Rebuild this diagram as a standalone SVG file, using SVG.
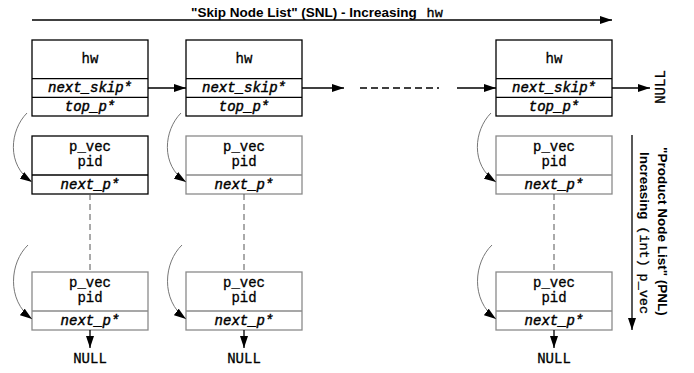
<svg xmlns="http://www.w3.org/2000/svg" width="694" height="373" viewBox="0 0 694 373">
  <style>
    .box { fill: #ffffff; stroke: #000000; stroke-width: 1.3; }
    .box.light { stroke: #8a8a8a; }
    .sep { stroke: #000000; stroke-width: 1.3; }
    .sep.light { stroke: #8a8a8a; }
    .mono { font-family: "Liberation Mono", "Courier New", monospace; font-size: 14px; fill: #000; stroke: #000; stroke-width: 0.3; text-anchor: middle; }
    .field { font-style: italic; stroke-width: 0.45; }
    .label { font-family: "Liberation Sans", Arial, sans-serif; font-size: 13.5px; font-weight: bold; fill: #000; }
    .labelmono { font-family: "Liberation Mono", "Courier New", monospace; font-size: 13.5px; font-weight: normal; stroke: #000; stroke-width: 0.3; }
    .link { stroke: #000; stroke-width: 1.3; fill: none; marker-end: url(#head); }
    .dash { stroke: #555; stroke-width: 1; stroke-dasharray: 6 4; fill: none; }
    .curve { stroke: #777; stroke-width: 1; fill: none; marker-end: url(#head); }
  </style>
  <defs>
    <marker id="head" viewBox="0 0 12 8" refX="12" refY="4" markerWidth="12" markerHeight="8" markerUnits="userSpaceOnUse" orient="auto">
      <path d="M0,0 L12,4 L0,8 Z" fill="#000"/>
    </marker>
  </defs>

  <!-- direction labels -->
  <g id="snl-title">
    <text class="label" x="191" y="17">"Skip Node List" (SNL) - Increasing <tspan class="labelmono" dx="6">hw</tspan></text>
  </g>
  <g id="pnl-title">
    <text class="label" transform="translate(658,147) rotate(90)" x="0" y="0">"Product Node List" (PNL)</text>
    <text class="label" transform="translate(640,152) rotate(90)" x="0" y="0">Increasing <tspan class="labelmono" dx="3">(int)</tspan> <tspan class="labelmono" dx="3">p_vec</tspan></text>
  </g>

  <!-- skip nodes -->
  <g id="skip1">
    <rect class="box" x="32" y="40" width="116" height="76"/>
    <line class="sep" x1="32" y1="78.7" x2="148" y2="78.7"/>
    <line class="sep" x1="32" y1="97.3" x2="148" y2="97.3"/>
    <text class="mono" x="90" y="63">hw</text>
    <text class="mono field" x="90" y="92">next_skip*</text>
    <text class="mono field" x="90" y="111">top_p*</text>
  </g>
  <g id="skip2">
    <rect class="box" x="186" y="40" width="116" height="76"/>
    <line class="sep" x1="186" y1="78.7" x2="302" y2="78.7"/>
    <line class="sep" x1="186" y1="97.3" x2="302" y2="97.3"/>
    <text class="mono" x="244" y="63">hw</text>
    <text class="mono field" x="244" y="92">next_skip*</text>
    <text class="mono field" x="244" y="111">top_p*</text>
  </g>
  <g id="skip3">
    <rect class="box" x="496" y="40" width="116" height="76"/>
    <line class="sep" x1="496" y1="78.7" x2="612" y2="78.7"/>
    <line class="sep" x1="496" y1="97.3" x2="612" y2="97.3"/>
    <text class="mono" x="554" y="63">hw</text>
    <text class="mono field" x="554" y="92">next_skip*</text>
    <text class="mono field" x="554" y="111">top_p*</text>
  </g>

  <!-- product nodes, first row -->
  <g id="prod1a">
    <rect class="box" x="32" y="136" width="116" height="58"/>
    <line class="sep" x1="32" y1="175" x2="148" y2="175"/>
    <text class="mono"><tspan x="90" y="151">p_vec</tspan><tspan x="90" y="165.5">pid</tspan></text>
    <text class="mono field" x="90" y="188.5">next_p*</text>
  </g>
  <g id="prod2a">
    <rect class="box light" x="186" y="136" width="116" height="58"/>
    <line class="sep light" x1="186" y1="175" x2="302" y2="175"/>
    <text class="mono"><tspan x="244" y="151">p_vec</tspan><tspan x="244" y="165.5">pid</tspan></text>
    <text class="mono field" x="244" y="188.5">next_p*</text>
  </g>
  <g id="prod3a">
    <rect class="box light" x="496" y="136" width="116" height="58"/>
    <line class="sep light" x1="496" y1="175" x2="612" y2="175"/>
    <text class="mono"><tspan x="554" y="151">p_vec</tspan><tspan x="554" y="165.5">pid</tspan></text>
    <text class="mono field" x="554" y="188.5">next_p*</text>
  </g>

  <!-- product nodes, last row -->
  <g id="prod1b">
    <rect class="box light" x="32" y="272" width="116" height="58"/>
    <line class="sep light" x1="32" y1="311" x2="148" y2="311"/>
    <text class="mono"><tspan x="90" y="287">p_vec</tspan><tspan x="90" y="301.5">pid</tspan></text>
    <text class="mono field" x="90" y="324.5">next_p*</text>
  </g>
  <g id="prod2b">
    <rect class="box light" x="186" y="272" width="116" height="58"/>
    <line class="sep light" x1="186" y1="311" x2="302" y2="311"/>
    <text class="mono"><tspan x="244" y="287">p_vec</tspan><tspan x="244" y="301.5">pid</tspan></text>
    <text class="mono field" x="244" y="324.5">next_p*</text>
  </g>
  <g id="prod3b">
    <rect class="box light" x="496" y="272" width="116" height="58"/>
    <line class="sep light" x1="496" y1="311" x2="612" y2="311"/>
    <text class="mono"><tspan x="554" y="287">p_vec</tspan><tspan x="554" y="301.5">pid</tspan></text>
    <text class="mono field" x="554" y="324.5">next_p*</text>
  </g>

  <!-- terminators -->
  <g id="null-skip">
    <text class="mono" transform="translate(665,87) rotate(-90)" x="0" y="0">NULL</text>
  </g>
  <g id="null-1"><text class="mono" x="90" y="363">NULL</text></g>
  <g id="null-2"><text class="mono" x="244" y="363">NULL</text></g>
  <g id="null-3"><text class="mono" x="554" y="363">NULL</text></g>

  <!-- connectors -->
  <g id="connectors">
    <line class="link" x1="32" y1="20" x2="612" y2="20"/>
    <line class="link" x1="632" y1="135" x2="632" y2="330"/>

    <line class="link" x1="148" y1="88" x2="186" y2="88"/>
    <line class="link" x1="302" y1="88" x2="344" y2="88"/>
    <line x1="360" y1="88" x2="439" y2="88" stroke="#000" stroke-width="1.3" stroke-dasharray="7 4"/>
    <line class="link" x1="457" y1="88" x2="496" y2="88"/>
    <line class="link" x1="612" y1="88" x2="650" y2="88"/>

    <path class="curve" d="M27,113 C10,130 6,165 32,182"/>
    <path class="curve" d="M181,113 C164,130 160,165 186,182"/>
    <path class="curve" d="M491,113 C474,130 470,165 496,182"/>
    <path class="curve" d="M28,245 C10,262 6,300 32,319"/>
    <path class="curve" d="M182,245 C164,262 160,300 186,319"/>
    <path class="curve" d="M492,245 C474,262 470,300 496,319"/>

    <line class="dash" x1="90" y1="194" x2="90" y2="272"/>
    <line class="dash" x1="244" y1="194" x2="244" y2="272"/>
    <line class="dash" x1="554" y1="194" x2="554" y2="272"/>

    <line class="link" x1="90" y1="330" x2="90" y2="348"/>
    <line class="link" x1="244" y1="330" x2="244" y2="348"/>
    <line class="link" x1="554" y1="330" x2="554" y2="348"/>
  </g>
</svg>
